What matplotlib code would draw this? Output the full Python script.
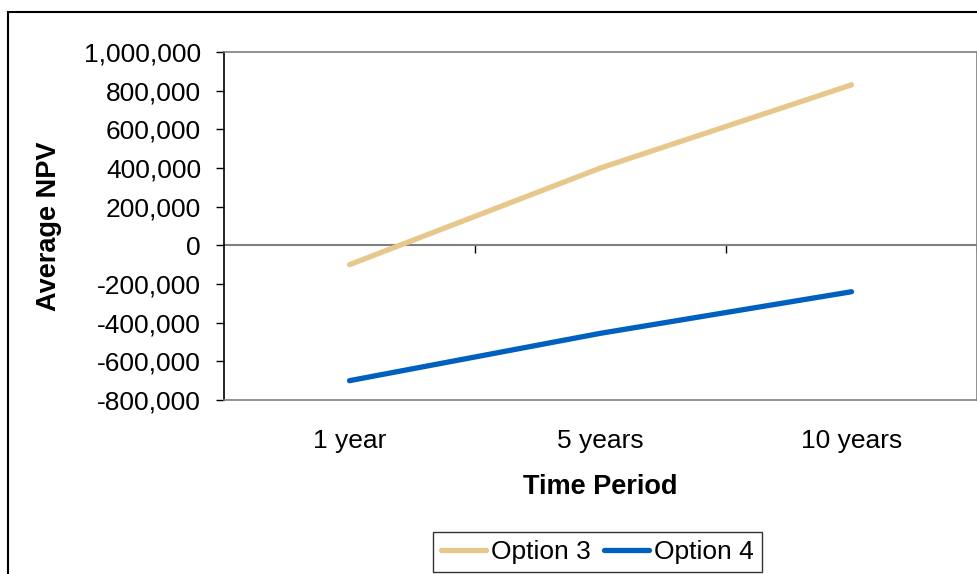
import matplotlib
matplotlib.use('Agg')
import matplotlib.pyplot as plt
from matplotlib.patches import Rectangle
from matplotlib.ticker import FuncFormatter

plt.rcParams['font.family'] = ['Liberation Sans', 'DejaVu Sans']

categories = ['1 year', '5 years', '10 years']
option3 = [-100000, 400000, 830000]
option4 = [-700000, -455000, -240000]

fig = plt.figure(figsize=(9.78, 5.74), dpi=100)
ax = fig.add_axes([224/978, 1 - 400/574, 753/978, 348/574])

x = list(range(len(categories)))
ax.plot(x, option3, color='#E6C78C', lw=3.8, solid_capstyle='round', label='Option 3')
ax.plot(x, option4, color='#0060C0', lw=3.8, solid_capstyle='round', label='Option 4')

ax.set_xlim(-0.5, 2.5)
ax.set_ylim(-800000, 1000000)
ax.set_yticks(range(-800000, 1000001, 200000))
ax.yaxis.set_major_formatter(FuncFormatter(lambda v, p: f'{int(v):,}'))
ax.tick_params(axis='y', direction='out', length=5.5, width=1, color='black',
               pad=11, labelsize=19)
ax.set_xticks(x)
ax.set_xticklabels(categories)
ax.tick_params(axis='x', length=0, pad=21, labelsize=19)

for s in ['top', 'right', 'bottom']:
    ax.spines[s].set_color('#808080')
    ax.spines[s].set_linewidth(1.2)
ax.spines['left'].set_color('black')
ax.spines['left'].set_linewidth(1.2)

# category axis crossing at zero
sec = ax.secondary_xaxis(0.8 / 1.8)
sec.set_xticks([0.5, 1.5, 2.5])
sec.set_xticklabels([])
sec.tick_params(direction='out', length=5.5, width=1, color='black')
sec.spines['bottom'].set_color('#808080')
sec.spines['bottom'].set_linewidth(1.5)

ax.set_ylabel('Average NPV', fontsize=19.5, fontweight='bold')
ax.yaxis.label.set_va('center')
ax.yaxis.set_label_coords(-0.232, 0.5)
ax.set_xlabel('Time Period', fontsize=19.5, fontweight='bold')
ax.xaxis.label.set_va('center')
ax.xaxis.set_label_coords(0.5, -0.25)

leg = fig.legend(loc='upper left', bbox_to_anchor=(433/978, 1 - 532/574), ncol=2,
                 fontsize=19, frameon=True, fancybox=False, handlelength=1.7,
                 handletextpad=0.2, columnspacing=0.5, borderpad=0.3,
                 borderaxespad=0)
leg.get_frame().set_edgecolor('black')
leg.get_frame().set_linewidth(1.0)

# outer chart frame
fig.patches.append(Rectangle((8/978, -0.1), 1.2, 1 - 12/574 + 0.1,
                             transform=fig.transFigure, fill=False,
                             edgecolor='black', linewidth=1.5))

fig.savefig('out.png', dpi=100)
